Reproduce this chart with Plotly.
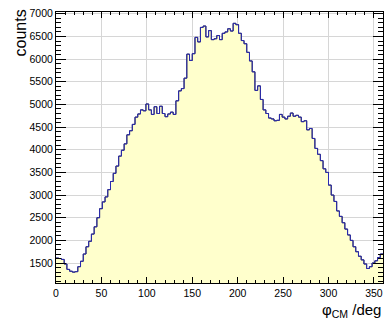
import plotly.graph_objects as go

# Azimuthal angle distribution in the CM frame, 3-degree bins over 0..360
bin_width = 3.0
bin_low = 0.0
counts = [
    1610, 1600, 1580, 1480, 1360, 1320, 1300, 1310, 1420, 1540,
    1700, 1860, 1980, 2140, 2300, 2500, 2700, 2850, 2960, 3120,
    3300, 3480, 3640, 3860, 3990, 4130, 4330, 4420, 4560, 4720,
    4790, 4880, 4860, 5010, 4880, 4780, 4950, 4800, 4960, 4800,
    4730, 4790, 4830, 4780, 5080, 5300, 5350, 5580, 6110, 5970,
    6120, 6480, 6380, 6700, 6730, 6490, 6630, 6430, 6450, 6520,
    6430, 6570, 6600, 6670, 6620, 6790, 6760, 6570, 6410, 6340,
    6150, 5960, 5720, 5310, 5410, 5110, 4880, 4800, 4700, 4680,
    4640, 4650, 4780, 4720, 4680, 4740, 4810, 4740, 4760, 4720,
    4620, 4640, 4440, 4470, 4250, 4030, 3900, 3760, 3580, 3500,
    3220, 3000, 2860, 2650, 2530, 2390, 2250, 2120, 2000, 1860,
    1750, 1650, 1570, 1480, 1380, 1420, 1500, 1550, 1620, 1700,
]
x_ticks = [0, 50, 100, 150, 200, 250, 300, 350]
y_ticks = [1500, 2000, 2500, 3000, 3500, 4000, 4500, 5000, 5500, 6000, 6500, 7000]

# step outline: left edges plus the final right edge
edges = [bin_low + i * bin_width for i in range(len(counts) + 1)]
steps = counts + [counts[-1]]

fig = go.Figure()
fig.add_trace(go.Scatter(
    x=edges, y=steps, mode="lines", line_shape="hv",
    line=dict(color="#222222", width=1),
    fill="tozeroy", fillcolor="#ffffcc", hoverinfo="skip",
))
fig.add_trace(go.Scatter(
    x=edges, y=steps, mode="lines", line_shape="hv",
    line=dict(color="#2a2ab4", width=1), hoverinfo="skip",
))

axis_font = dict(family="Liberation Sans, Arial, sans-serif", size=10.5, color="#000000")

fig.update_layout(
    width=385, height=322,
    margin=dict(l=56, r=2, t=12, b=39),
    paper_bgcolor="white", plot_bgcolor="white",
    showlegend=False,
    font=axis_font,
    xaxis=dict(
        range=[0, 360], tickvals=x_ticks, ticktext=[str(v) for v in x_ticks],
        ticks="inside", ticklen=6, tickwidth=1, tickcolor="#000000",
        minor=dict(ticks="inside", ticklen=3, dtick=10, tick0=0, tickcolor="#000000", showgrid=False),
        showline=True, linecolor="#000000", linewidth=1, mirror="ticks",
        showgrid=True, gridcolor="#d6d6d6", gridwidth=1,
        zeroline=False, tickfont=axis_font,
    ),
    yaxis=dict(
        range=[1060, 7040], tickvals=y_ticks, ticktext=[str(v) for v in y_ticks],
        ticks="inside", ticklen=10, tickwidth=1, tickcolor="#000000",
        minor=dict(ticks="inside", ticklen=5, dtick=100, tick0=0, tickcolor="#000000", showgrid=False),
        showline=True, linecolor="#000000", linewidth=1, mirror="ticks",
        showgrid=True, gridcolor="#d6d6d6", gridwidth=1,
        zeroline=False, tickfont=axis_font,
    ),
    annotations=[
        dict(text="φ<sub>CM</sub> /deg", xref="paper", yref="paper",
             x=1.0, y=-0.06, xanchor="right", yanchor="top", showarrow=False,
             font=dict(family="Liberation Sans, Arial, sans-serif", size=15, color="#000000")),
        dict(text="counts", xref="paper", yref="paper",
             x=-0.11, y=1.015, xanchor="center", yanchor="top", textangle=-90, showarrow=False,
             font=dict(family="Liberation Sans, Arial, sans-serif", size=16, color="#000000")),
    ],
)

fig.write_html("out.html")
